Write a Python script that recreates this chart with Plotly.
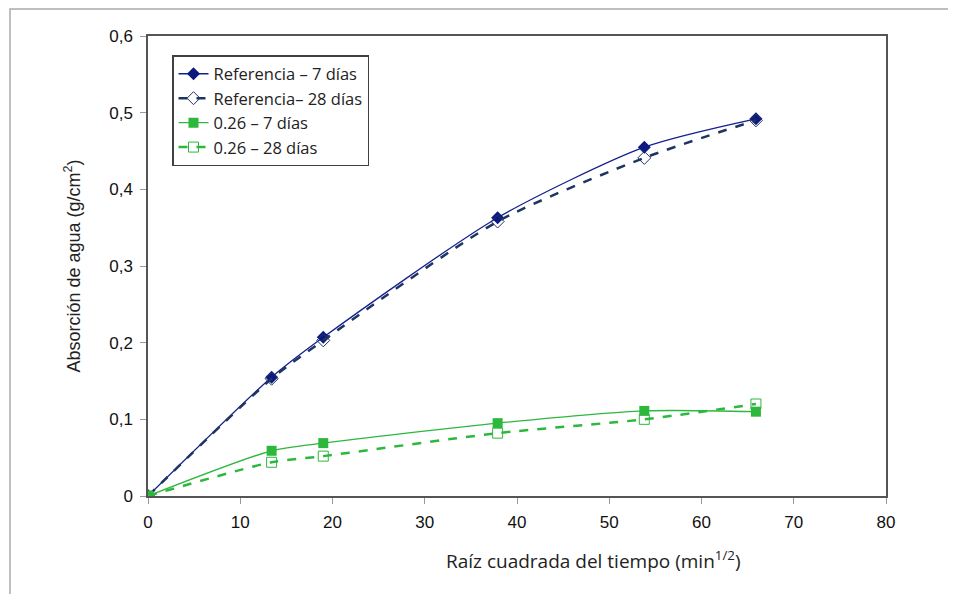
import plotly.graph_objects as go

x_vals = [0, 13.4, 19.0, 37.9, 53.8, 65.9]
ref_7 = [0, 0.155, 0.207, 0.363, 0.455, 0.492]
ref_28 = [0, 0.153, 0.203, 0.358, 0.441, 0.490]
g_7 = [0, 0.059, 0.069, 0.095, 0.111, 0.110]
g_28 = [0, 0.044, 0.052, 0.082, 0.100, 0.120]
names = ["Referencia – 7 días", "Referencia– 28 días", "0.26 – 7 días", "0.26 – 28 días"]

W, H = 940, 586
L, T = 140, 28
PR, PB = 878, 488  # plot right / bottom in figure px

fig = go.Figure()
fig.add_trace(go.Scatter(x=x_vals, y=ref_7, name=names[0], legendgroup="a", mode="lines+markers",
                         line=dict(color="#14208f", width=1.3, shape="spline", smoothing=0.7),
                         marker=dict(symbol="diamond", size=10, color="#0c1a80")))
fig.add_trace(go.Scatter(x=x_vals, y=ref_28, name=names[1], legendgroup="b", mode="lines+markers",
                         line=dict(color="#1f3561", width=2.5, dash="dash", shape="spline", smoothing=0.7),
                         marker=dict(symbol="diamond-open", size=10, color="#1f3561", line=dict(width=1))))
fig.add_trace(go.Scatter(x=x_vals, y=g_7, name=names[2], legendgroup="c", mode="lines+markers",
                         line=dict(color="#2db83d", width=1.3, shape="spline", smoothing=0.7),
                         marker=dict(symbol="square", size=10, color="#2db83d")))
fig.add_trace(go.Scatter(x=x_vals, y=g_28, name=names[3], legendgroup="d", mode="lines+markers",
                         line=dict(color="#2db83d", width=2.5, dash="dash", shape="spline", smoothing=0.7),
                         marker=dict(symbol="square-open", size=10, color="#2db83d", line=dict(width=1))))

pw, ph = PR - L, PB - T

fig.update_layout(
    width=W, height=H,
    margin=dict(l=L, r=W - PR, t=T, b=H - PB),
    paper_bgcolor="white", plot_bgcolor="white",
    separators=",.",
    showlegend=True,
    legend=dict(x=(172 - 8 - L) / pw, y=(PB - (55 - 8)) / ph, xanchor="left", yanchor="top",
                bordercolor="#404040", borderwidth=1.5, bgcolor="white",
                font=dict(family="Open Sans, Lato, sans-serif", size=16.5, color="#222"),
                tracegroupgap=0, itemwidth=30),
    xaxis=dict(range=[0, 80], dtick=10, tick0=0, showgrid=False, zeroline=False,
               showline=True, linecolor="#555", linewidth=1.5, mirror=True,
               ticks="outside", ticklen=6, tickcolor="#999", ticklabelstandoff=4,
               tickfont=dict(family="Liberation Sans, Arial, sans-serif", size=17, color="#111")),
    yaxis=dict(range=[0, 0.6], dtick=0.1, tick0=0, showgrid=False, zeroline=False,
               showline=True, linecolor="#555", linewidth=1.5, mirror=True,
               ticks="outside", ticklen=6, tickcolor="#999", ticklabelstandoff=4,
               tickfont=dict(family="Liberation Sans, Arial, sans-serif", size=17, color="#111"),
               title=dict(text="Absorción de agua (g/cm<sup>2</sup>)",
                          font=dict(family="Liberation Sans, Arial, sans-serif", size=18, color="#222"),
                          standoff=24)),
    annotations=[dict(text="Raíz cuadrada del tiempo (min<sup>1/2</sup>)", xref="paper", yref="paper",
                      x=(593 - 8 - L) / pw, y=(PB - (560 - 8)) / ph, xanchor="center", yanchor="middle",
                      showarrow=False,
                      font=dict(family="Open Sans, Lato, sans-serif", size=19, color="#222"))],
    shapes=[dict(type="rect", xref="paper", yref="paper",
                 x0=(2 - L) / pw, x1=(W + 20 - L) / pw,
                 y0=(PB - (H + 20)) / ph, y1=(PB - 1) / ph,
                 line=dict(color="#aaa", width=1.5), fillcolor="rgba(0,0,0,0)", layer="below")],
)

fig.write_html("out.html")
